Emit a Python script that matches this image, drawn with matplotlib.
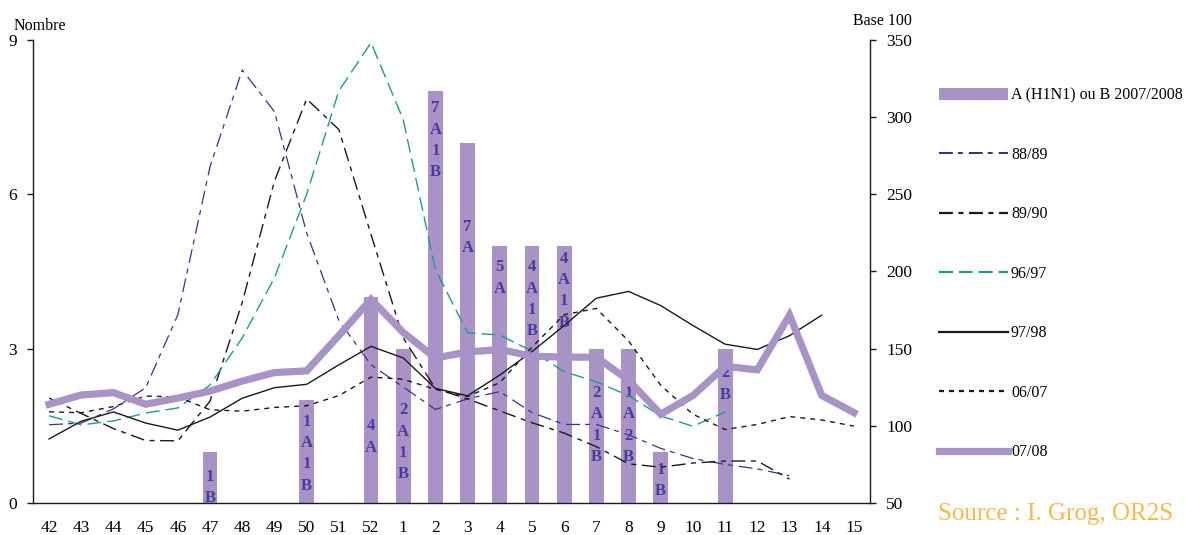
import numpy as np
import matplotlib
matplotlib.use("Agg")
import matplotlib.pyplot as plt
from matplotlib.lines import Line2D
from matplotlib.patches import Patch

# Weeks of the influenza season (week 42 to week 15)
weeks = ["42", "43", "44", "45", "46", "47", "48", "49", "50", "51", "52",
         "1", "2", "3", "4", "5", "6", "7", "8", "9", "10", "11", "12", "13", "14", "15"]

# Number of A (H1N1) or B cases in 2007/2008 (left axis)
cases = [0, 0, 0, 0, 0, 1, 0, 0, 2, 0, 4, 3, 8, 7, 5, 5, 5, 3, 3, 1, 0, 3, 0, 0, 0, 0]
case_labels = ["", "", "", "", "", "1B", "", "", "1A1B", "", "4A", "2A1B", "7A1B", "7A",
               "5A", "4A1B", "4A1B", "2A1B", "1A2B", "1B", "", "2B", "", "", "", ""]
# height (left axis units) of the first character of each stacked label
label_top = [0, 0, 0, 0, 0, 0.51, 0, 0, 1.58, 0, 1.49, 1.80, 7.67, 5.37,
             4.58, 4.58, 4.75, 2.14, 2.14, 0.64, 0, 2.52, 0, 0, 0, 0]

nan = np.nan
# Activity indices, base 100 (right axis)
s_8889 = [100.7, 101.8, 111.0, 124.7, 172.0, 268.0, 330.6, 303.6, 225.0, 168.3, 139.5,
          125.2, 110.6, 117.5, 122.2, 108.6, 100.9, 100.9, 94.2, 85.4, 78.8, 75.0, 72.1, 67.7,
          nan, nan]
s_8990 = [118.0, 108.0, 98.2, 90.5, 90.3, 116.0, 180.0, 258.5, 311.8, 292.0, 224.0,
          157.0, 124.2, 117.4, 109.7, 102.0, 95.3, 86.5, 75.4, 73.2, 75.9, 77.2, 77.2, 65.5,
          nan, nan]
s_9697 = [106.5, 100.6, 103.2, 108.3, 111.6, 126.5, 157.0, 195.9, 250.0, 317.0, 348.3,
          298.4, 201.2, 160.3, 158.8, 148.4, 135.1, 128.5, 119.6, 106.4, 99.7, 109.0,
          nan, nan, nan, nan]
s_9798 = [91.5, 103.0, 109.0, 101.8, 97.2, 105.7, 117.9, 124.7, 126.9, 139.5, 151.5,
          144.0, 124.2, 119.5, 132.9, 148.1, 165.0, 182.7, 187.1, 177.9, 165.0, 152.9, 149.5,
          158.4, 171.7, nan]
s_0607 = [109.1, 108.5, 112.5, 119.3, 118.7, 110.4, 109.5, 111.9, 113.0, 119.6, 131.6,
          130.2, 123.6, 119.0, 128.0, 151.0, 172.0, 176.1, 155.0, 126.3, 107.5, 97.6, 100.9,
          106.0, 103.8, 99.8]
s_0708 = [114.0, 120.0, 121.5, 114.0, 118.0, 122.5, 129.0, 134.5, 135.6, 158.5, 182.0,
          160.5, 144.0, 147.8, 149.5, 145.1, 144.5, 144.5, 129.6, 107.5, 119.7, 138.5, 136.3,
          171.7, 119.7, 108.6]

BAR = "#a993c6"
LABEL = "#4a3a9c"
NAVY = "#3b2f90"
TEAL = "#1e9a94"
INK = "#1a1a1a"

plt.rcParams["font.family"] = ["Liberation Serif", "DejaVu Serif"]
plt.rcParams["lines.scale_dashes"] = False

W, H = 1186, 535
fig = plt.figure(figsize=(W / 100, H / 100), dpi=100)
ax = fig.add_axes([33 / W, 32 / H, 837 / W, 463 / H])
ax2 = ax.twinx()

x = np.arange(len(weeks))

# bars: number of cases
ax.bar(x, cases, width=0.46, color=BAR, linewidth=0, zorder=1)
step = 0.414
for xi, lab, top in zip(x, case_labels, label_top):
    for k, ch in enumerate(lab):
        ax.text(xi, top - k * step, ch, ha="center", va="center", color=LABEL,
                fontsize=12, fontweight="bold", zorder=3)

# season curves (base 100)
series = [
    ("88/89", s_8889, dict(color=NAVY, lw=0.9, dashes=(10, 3.6, 3.6, 4.3))),
    ("89/90", s_8990, dict(color=INK, lw=1.0, dashes=(10, 4, 3.6, 4))),
    ("96/97", s_9697, dict(color=TEAL, lw=1.0, dashes=(10, 4.3))),
    ("97/98", s_9798, dict(color=INK, lw=1.0)),
    ("06/07", s_0607, dict(color=INK, lw=1.0, dashes=(3.6, 3.6))),
]
handles = [Patch(facecolor=BAR, edgecolor="none")]
labels = ["A (H1N1) ou B 2007/2008"]
for name, vals, style in series:
    ax2.plot(x, vals, **style)
    legend_style = dict(style)
    legend_style["lw"] = style["lw"] * 1.6
    handles.append(Line2D([], [], **legend_style))
    labels.append(name)
thick = dict(color=BAR, lw=5.2, solid_joinstyle="miter")
ax2.plot(x, s_0708, **thick)
handles.append(Line2D([], [], **thick))
labels.append("07/08")

ax.set_xlim(-0.5, len(weeks) - 0.5)
ax.set_ylim(0, 9)
ax.set_yticks([0, 3, 6, 9])
ax2.set_ylim(50, 350)
ax2.set_yticks(range(50, 351, 50))
ax.set_xticks(x)
ax.set_xticklabels(weeks)

for a in (ax, ax2):
    for s in a.spines.values():
        s.set_visible(False)
ax.spines["left"].set_visible(True)
ax.spines["bottom"].set_visible(True)
ax2.spines["right"].set_visible(True)
for s in (ax.spines["left"], ax.spines["bottom"], ax2.spines["right"]):
    s.set_linewidth(1.0)
    s.set_color(INK)

ax.tick_params(axis="y", direction="out", length=4.5, width=1.0, pad=7, labelsize=12.5,
               color=INK)
ax.tick_params(axis="x", length=0, pad=12.5, labelsize=12.5)
ax2.tick_params(axis="y", direction="out", length=4.5, width=1.0, pad=7, labelsize=12.5,
                color=INK)

fig.text(14 / W, 1 - 30 / H, "Nombre", fontsize=11.5, ha="left", va="baseline")
fig.text(912 / W, 1 - 25 / H, "Base 100", fontsize=11.5, ha="right", va="baseline")

fig.legend(handles, labels, loc="upper left", bbox_to_anchor=(939 / W, 1 - 87.5 / H),
           frameon=False, fontsize=11.5, handlelength=4.3, handletextpad=0.2,
           labelspacing=2.72, borderpad=0, borderaxespad=0)

fig.text(938 / W, 1 - 520 / H, "Source : I. Grog, OR2S", fontsize=18, color="#f9b94a",
         ha="left", va="baseline")

fig.savefig("out.png", dpi=100)
